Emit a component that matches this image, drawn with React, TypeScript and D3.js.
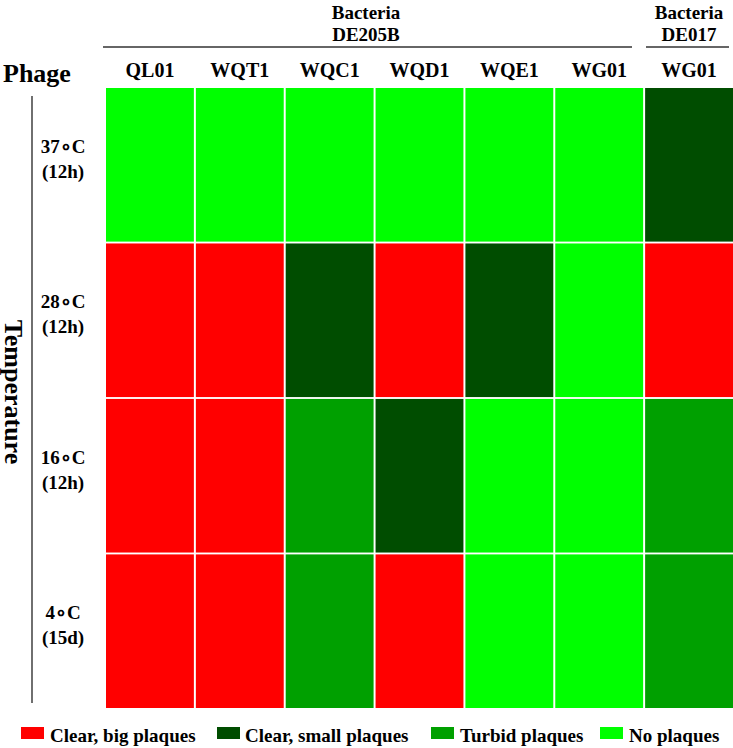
import React from "react";
import * as d3 from "d3";

// plaque phenotype of each phage at each temperature
const phages = ["QL01", "WQT1", "WQC1", "WQD1", "WQE1", "WG01", "WG01 "];
const temps = ["37∘C", "28∘C", "16∘C", "4∘C"];
const times = ["(12h)", "(12h)", "(12h)", "(15d)"];
const categories = ["Clear, big plaques", "Clear, small plaques", "Turbid plaques", "No plaques"];
const colors = ["#ff0000", "#004d00", "#00a000", "#00ff00"];
// B = clear big, S = clear small, T = turbid, N = none
const row37 = ["N", "N", "N", "N", "N", "N", "S"];
const row28 = ["B", "B", "S", "B", "S", "N", "B"];
const row16 = ["B", "B", "T", "S", "N", "N", "T"];
const row4 = ["B", "B", "T", "B", "N", "N", "T"];
const codes = ["B", "S", "T", "N"];

const W = 733;
const H = 748;
const font = "'Liberation Serif', 'Times New Roman', serif";

export default function App() {
  const rows = [row37, row28, row16, row4];
  const x = d3.scaleBand<string>().domain(phages).range([106, 733]).paddingInner(0.022);
  const y = d3.scaleBand<string>().domain(temps).range([88, 708]).paddingInner(0.012);
  const color = d3.scaleOrdinal<string, string>().domain(codes).range(colors);

  const cells = rows.flatMap((r, i) =>
    r.map((c, j) => ({ temp: temps[i], phage: phages[j], code: c }))
  );

  const legendX = [21, 217, 431, 600];
  const legendGap = [29, 28, 29, 29];

  return (
    <svg width={W} height={H} style={{ position: "absolute", left: 0, top: 0 }} fontFamily={font} fontWeight="bold">
      <rect width={W} height={H} fill="#fff" />
      {/* column group headers */}
      <g fontSize={19} textAnchor="middle">
        <text x={366} y={19}>Bacteria</text>
        <text x={366} y={41}>DE205B</text>
        <text x={689} y={19}>Bacteria</text>
        <text x={689} y={41}>DE017</text>
      </g>
      <line x1={103} x2={632} y1={47} y2={47} stroke="#333" strokeWidth={1.3} />
      <line x1={646} x2={729} y1={47} y2={47} stroke="#333" strokeWidth={1.3} />
      <text x={3} y={82} fontSize={26}>Phage</text>
      {phages.map((p) => (
        <text key={p} x={x(p)! + x.bandwidth() / 2} y={77} textAnchor="middle" fontSize={20}>
          {p.trim()}
        </text>
      ))}
      {/* cells */}
      {cells.map((d, i) => (
        <rect
          key={i}
          x={x(d.phage)}
          y={y(d.temp)}
          width={x.bandwidth()}
          height={y.bandwidth()}
          fill={color(d.code)}
        />
      ))}
      {/* row labels */}
      <line x1={32} x2={32} y1={96} y2={703} stroke="#222" strokeWidth={1.3} />
      <text transform="translate(5,392) rotate(90)" textAnchor="middle" fontSize={26}>Temperature</text>
      {temps.map((t, i) => (
        <g key={t} fontSize={19} textAnchor="middle">
          <text x={63} y={y(t)! + 65}>{t}</text>
          <text x={63} y={y(t)! + 90}>{times[i]}</text>
        </g>
      ))}
      {/* legend */}
      {categories.map((c, i) => (
        <g key={c}>
          <rect x={legendX[i]} y={727} width={23} height={12} fill={colors[i]} />
          <text x={legendX[i] + legendGap[i]} y={742} fontSize={19}>{c}</text>
        </g>
      ))}
    </svg>
  );
}
